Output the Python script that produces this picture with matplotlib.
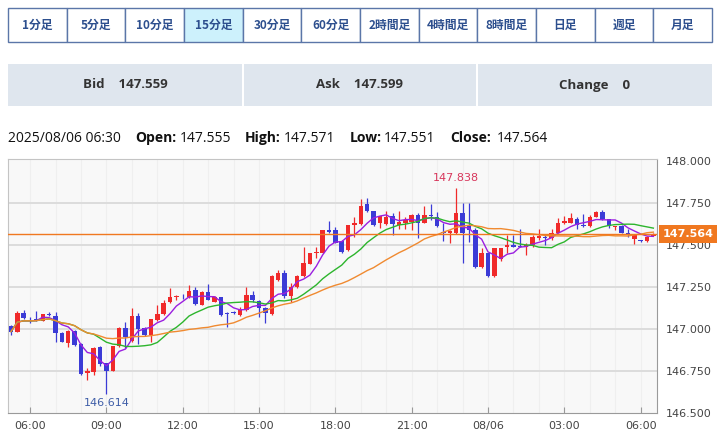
import numpy as np
import pandas as pd
import matplotlib
matplotlib.use("Agg")
import matplotlib.pyplot as plt
import matplotlib.patches as patch

# 15 minute bars, 2025/08/05 05:15 .. 2025/08/06 06:30
start_time = "2025-08-05 05:15"
opens = [147.018, 146.985, 147.097, 147.052, 147.058, 147.049, 147.090, 147.077, 146.975, 146.915,
         146.990, 146.911, 146.736, 146.746, 146.891, 146.798, 146.752, 146.899, 147.008, 146.930,
         147.077, 147.004, 146.964, 147.054, 147.087, 147.159, 147.190, 147.198, 147.189, 147.232,
         147.143, 147.222, 147.163, 147.189, 147.095, 147.103, 147.083, 147.113, 147.202, 147.169,
         147.123, 147.089, 147.292, 147.331, 147.196, 147.248, 147.315, 147.387, 147.454, 147.454,
         147.589, 147.589, 147.526, 147.470, 147.619, 147.625, 147.742, 147.704, 147.629, 147.625,
         147.673, 147.619, 147.633, 147.639, 147.679, 147.633, 147.680, 147.669, 147.579, 147.570,
         147.570, 147.693, 147.619, 147.589, 147.371, 147.450, 147.315, 147.415, 147.490, 147.500,
         147.494, 147.486, 147.500, 147.540, 147.549, 147.540, 147.573, 147.629, 147.633, 147.653,
         147.615, 147.613, 147.669, 147.698, 147.653, 147.605, 147.613, 147.573, 147.534, 147.527,
         147.524, 147.555]
highs = [147.025, 147.105, 147.113, 147.070, 147.110, 147.090, 147.100, 147.100, 146.980, 146.995,
         146.995, 146.915, 146.766, 146.890, 146.900, 146.800, 146.900, 147.010, 147.043, 147.125,
         147.095, 147.010, 147.060, 147.143, 147.170, 147.244, 147.200, 147.210, 147.262, 147.250,
         147.225, 147.268, 147.195, 147.190, 147.100, 147.110, 147.130, 147.250, 147.225, 147.175,
         147.130, 147.320, 147.350, 147.350, 147.272, 147.320, 147.486, 147.455, 147.486, 147.590,
         147.645, 147.609, 147.530, 147.620, 147.669, 147.771, 147.777, 147.705, 147.675, 147.700,
         147.693, 147.700, 147.669, 147.685, 147.693, 147.735, 147.745, 147.699, 147.629, 147.590,
         147.838, 147.748, 147.748, 147.599, 147.480, 147.455, 147.485, 147.485, 147.560, 147.560,
         147.593, 147.510, 147.560, 147.593, 147.560, 147.593, 147.659, 147.673, 147.689, 147.669,
         147.685, 147.679, 147.700, 147.708, 147.655, 147.615, 147.619, 147.593, 147.565, 147.530,
         147.555, 147.571]
lows = [146.965, 146.980, 147.060, 147.035, 147.045, 147.045, 147.078, 146.924, 146.920, 146.890,
        146.900, 146.726, 146.696, 146.726, 146.780, 146.614, 146.750, 146.890, 146.887, 146.925,
        146.910, 146.960, 146.920, 147.050, 147.085, 147.155, 147.175, 147.180, 147.185, 147.145,
        147.140, 147.170, 147.160, 147.080, 147.014, 147.090, 147.080, 147.110, 147.160, 147.070,
        147.034, 147.085, 147.286, 147.186, 147.160, 147.245, 147.310, 147.385, 147.420, 147.450,
        147.570, 147.510, 147.455, 147.465, 147.550, 147.620, 147.698, 147.615, 147.600, 147.620,
        147.560, 147.593, 147.593, 147.589, 147.540, 147.630, 147.649, 147.610, 147.526, 147.514,
        147.565, 147.391, 147.520, 147.365, 147.361, 147.310, 147.310, 147.407, 147.454, 147.486,
        147.486, 147.440, 147.486, 147.530, 147.500, 147.530, 147.570, 147.625, 147.630, 147.593,
        147.605, 147.610, 147.665, 147.650, 147.599, 147.590, 147.570, 147.550, 147.506, 147.520,
        147.520, 147.551]
closes = [146.985, 147.097, 147.064, 147.048, 147.055, 147.087, 147.085, 146.976, 146.925, 146.990,
          146.905, 146.732, 146.750, 146.885, 146.790, 146.752, 146.899, 147.008, 146.955, 147.079,
          146.998, 146.964, 147.058, 147.087, 147.157, 147.189, 147.192, 147.194, 147.228, 147.149,
          147.222, 147.173, 147.189, 147.083, 147.090, 147.095, 147.113, 147.200, 147.173, 147.123,
          147.093, 147.315, 147.331, 147.196, 147.252, 147.315, 147.391, 147.450, 147.460, 147.589,
          147.577, 147.514, 147.460, 147.619, 147.633, 147.732, 147.704, 147.619, 147.673, 147.669,
          147.625, 147.639, 147.649, 147.679, 147.633, 147.679, 147.673, 147.613, 147.570, 147.583,
          147.693, 147.570, 147.589, 147.371, 147.450, 147.315, 147.480, 147.480, 147.500, 147.490,
          147.486, 147.500, 147.549, 147.554, 147.544, 147.573, 147.629, 147.643, 147.659, 147.619,
          147.613, 147.669, 147.698, 147.653, 147.613, 147.613, 147.573, 147.560, 147.560, 147.524,
          147.549, 147.564]

ma_periods = [5, 13, 25]
ma_colors = ["#9b1fe0", "#2db52d", "#f08a30"]

buttons = ["1分足", "5分足", "10分足", "15分足", "30分足", "60分足",
           "2時間足", "4時間足", "8時間足", "日足", "週足", "月足"]
selected = "15分足"
bid, ask, change = "147.559", "147.599", "0"

W, H = 720, 437
fig = plt.figure(figsize=(7.2, 4.37), dpi=100)
fig.patch.set_facecolor("white")

jp = ["Noto Sans CJK JP", "DejaVu Sans"]
sans = ["Open Sans", "DejaVu Sans"]


def fx(x):
    return x / W


def fy(y):
    return 1 - y / H


# timeframe buttons
bw = (712 - 8) / len(buttons)
for k, name in enumerate(buttons):
    x0 = 8 + k * bw
    fc = "#cdf1fc" if name == selected else "white"
    fig.add_artist(patch.Rectangle((fx(x0), fy(42)), bw / W, 34 / H, transform=fig.transFigure,
                                   facecolor=fc, edgecolor="#5b76a8", lw=1))
    fig.text(fx(x0 + bw / 2), fy(25), name, ha="center", va="center", fontsize=8.5,
             fontweight="bold", color="#2d4f8e", family=jp)

# quote panels
panels = [(8, 242, "Bid    " + bid), (244, 476, "Ask    " + ask), (478, 712, "Change    " + change)]
for x0, x1, label in panels:
    fig.add_artist(patch.Rectangle((fx(x0), fy(106)), (x1 - x0) / W, 42 / H, transform=fig.transFigure,
                                   facecolor="#dfe6ee", edgecolor="none"))
    fig.text(fx((x0 + x1) / 2), fy(85), label, ha="center", va="center", fontsize=9.5,
             fontweight="bold", color="#333333", family=sans)

# OHLC header line
last_time = pd.Timestamp(start_time) + pd.Timedelta(minutes=15 * (len(closes) - 1))
header = [(8, last_time.strftime("%Y/%m/%d %H:%M"), "normal"),
          (135, "Open:", "bold"), (180, "%.3f" % opens[-1], "normal"),
          (245, "High:", "bold"), (284, "%.3f" % highs[-1], "normal"),
          (350, "Low:", "bold"), (384, "%.3f" % lows[-1], "normal"),
          (450, "Close:", "bold"), (497, "%.3f" % closes[-1], "normal")]
for x, s, wgt in header:
    fig.text(fx(x), fy(138), s, ha="left", va="center", fontsize=10, fontweight=wgt,
             color="#111111", family=sans)

# chart
ax = fig.add_axes([fx(8), fy(413), 649 / W, 254 / H])
ax.set_facecolor("#f8f8f8")
n = len(closes)
idx = np.arange(n)
times = pd.date_range(start_time, periods=n, freq="15min")

o = np.array(opens)
h = np.array(highs)
l = np.array(lows)
c = np.array(closes)
up = c >= o
col = np.where(up, "#f02a2a", "#3b3bd6")

for t in idx[times.minute == 0]:
    ax.axvline(t, color="#efefef", lw=0.8, zorder=0)
for yv in np.arange(146.75, 148.0, 0.25):
    ax.axhline(yv, color="#dadada", lw=1.3, zorder=0.5)

ax.vlines(idx, l, h, colors=col, lw=0.9, zorder=2)
body = np.maximum(np.abs(c - o), 0.004)
ax.bar(idx, body, bottom=np.minimum(o, c), width=0.7, color=col, zorder=3)

s = pd.Series(c)
for p, mc in zip(ma_periods, ma_colors):
    ax.plot(idx, s.rolling(p, min_periods=1).mean(), color=mc, lw=1.0, zorder=4)

ax.axhline(closes[-1], color="#f07820", lw=1.0, zorder=5)

imax = int(np.argmax(h))
imin = int(np.argmin(l))
ax.annotate("%.3f" % h[imax], (imax, h[imax]), xytext=(0, 4), textcoords="offset points",
            ha="center", va="bottom", fontsize=8, color="#d8375c")
ax.annotate("%.3f" % l[imin], (imin, l[imin]), xytext=(0, -3), textcoords="offset points",
            ha="center", va="top", fontsize=8, color="#3f5ea8")

ax.set_xlim(-0.47, n - 0.43)
ax.set_ylim(146.5, 148.012)

ticks = idx[(times.minute == 0) & (times.hour % 3 == 0)]
labels = [t.strftime("%m/%d") if t.hour == 0 else t.strftime("%H:%M") for t in times[ticks]]
ax.set_xticks(ticks)
ax.set_xticklabels(labels)
ax.tick_params(axis="x", direction="in", length=4, color="#999999", labelsize=8,
               labelcolor="#444444", pad=6)
ax.yaxis.tick_right()
ax.set_yticks(np.arange(146.5, 148.01, 0.25))
ax.set_yticklabels(["%.3f" % v for v in np.arange(146.5, 148.01, 0.25)])
ax.tick_params(axis="y", length=0, labelsize=8, labelcolor="#444444", pad=6)
for side in ["top", "left"]:
    ax.spines[side].set_color("#c4c4c4")
for side in ["bottom", "right"]:
    ax.spines[side].set_color("#9a9a9a")

ax.annotate("%.3f" % closes[-1], xy=(1, closes[-1]), xycoords=("axes fraction", "data"),
            xytext=(4, 0), textcoords="offset points", ha="left", va="center",
            fontsize=8, fontweight="bold", color="white", annotation_clip=False, zorder=10,
            bbox=dict(boxstyle="square,pad=0.35", facecolor="#f07820", edgecolor="none"))

fig.savefig("out.png", dpi=100)
